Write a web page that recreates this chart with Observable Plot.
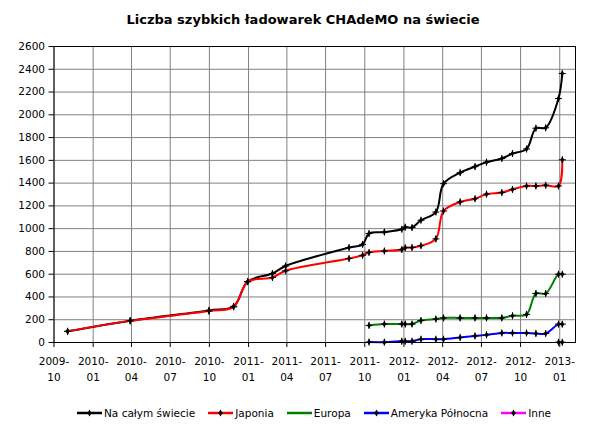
<!DOCTYPE html>
<html>
<head>
<meta charset="utf-8">
<script src="https://cdn.jsdelivr.net/npm/d3@7"></script>
<script src="https://cdn.jsdelivr.net/npm/@observablehq/plot@0.6"></script>
<style>
  html, body { margin: 0; padding: 0; background: #fff; }
  #wrap { position: relative; width: 600px; height: 424px; font-family: "DejaVu Sans", Verdana, sans-serif; }
  #title { position: absolute; left: 0; top: 12px; width: 606px; text-align: center; font-weight: bold; font-size: 13px; color: #000; }
  #chart { position: absolute; left: 0; top: 0; }
  #legend { position: absolute; left: 0; top: 406px; width: 628px; display: flex; justify-content: center; gap: 13px; font-size: 10.5px; color: #000; }
  .item { display: flex; align-items: center; gap: 2px; line-height: 14px; }
</style>
</head>
<body>
<div id="wrap">
  <div id="chart"></div>
  <div id="title">Liczba szybkich ładowarek CHAdeMO na świecie</div>
  <div id="legend"></div>
</div>
<script>
// ---- data ----
const dates = ["2009-11-02","2010-03-29","2010-09-30","2010-11-27","2010-12-30","2011-02-26","2011-03-29","2011-08-25","2011-09-26","2011-10-11","2011-11-16","2011-12-27","2012-01-04","2012-01-20","2012-02-10","2012-03-16","2012-04-03","2012-05-12","2012-06-16","2012-07-13","2012-08-18","2012-09-12","2012-10-15","2012-11-06","2012-11-29","2012-12-29","2013-01-07"];
const world  = [98,192,282,318,536,606,672,834,862,957,970,995,1013,1010,1074,1146,1395,1492,1545,1584,1616,1660,1700,1882,1886,2143,2363];
const japan  = [98,190,276,313,533,571,630,738,766,791,804,817,832,834,850,910,1155,1235,1263,1303,1317,1345,1375,1375,1381,1375,1605];
const europe = [null,null,null,null,null,null,null,null,null,150,162,162,162,162,193,206,216,216,216,216,216,235,247,430,430,600,600];
const northAmerica = [null,null,null,null,null,null,null,null,null,4,3,11,11,11,29,29,29,44,58,67,84,84,84,79,79,161,161];
const other  = [null,null,null,null,null,null,null,null,null,null,null,null,null,null,null,null,null,null,null,null,null,null,null,null,null,2,2];

const seriesNames  = ["Na całym świecie","Japonia","Europa","Ameryka Północna","Inne"];
const seriesColors = ["#000000","#ff0000","#008000","#0000ff","#ff00ff"];
const seriesValues = [world, japan, europe, northAmerica, other];
const legendMarker = [true, true, false, true, true];

const xTickLabels = ["2009-10","2010-01","2010-04","2010-07","2010-10","2011-01","2011-04","2011-07","2011-10","2012-01","2012-04","2012-07","2012-10","2013-01"];
const yTicks = [0,200,400,600,800,1000,1200,1400,1600,1800,2000,2200,2400,2600];
const xDomain = ["2009-10-01","2013-02-07"];
const yDomain = [0, 2600];

// ---- build ----
const parse = d3.utcParse("%Y-%m-%d");
const xTicks = xTickLabels.map(s => parse(s + "-01"));
const rows = [];
seriesValues.forEach((vals, si) => {
  vals.forEach((v, i) => {
    if (v != null) rows.push({series: seriesNames[si], date: parse(dates[i]), value: v});
  });
});

const marks = [
  Plot.gridX(xTicks, {stroke: "#808080", strokeOpacity: 1}),
  Plot.gridY(yTicks, {stroke: "#808080", strokeOpacity: 1}),
];
seriesNames.forEach((name, si) => {
  const d = rows.filter(r => r.series === name);
  marks.push(Plot.line(d, {x: "date", y: "value", stroke: seriesColors[si], strokeWidth: 2, curve: "catmull-rom"}));
  marks.push(Plot.dot(d, {x: "date", y: "value", symbol: "diamond", r: 2, fill: "#000", stroke: "none"}));
  marks.push(Plot.dot(d, {x: "date", y: "value", symbol: "plus", r: 2.4, stroke: "#000", strokeWidth: 1}));
});
marks.push(
  Plot.frame({stroke: "#000"}),
  Plot.axisY({ticks: yTicks, tickSize: 5, tickPadding: 4, label: null, tickFormat: d => String(d), fontSize: 10.5}),
  Plot.axisX({ticks: xTicks, tickSize: 5, tickPadding: 10, label: null, tickFormat: d => d3.utcFormat("%Y-")(d), fontSize: 10.5}),
  Plot.axisX({ticks: xTicks, tickSize: 0, tickPadding: 31, label: null, tickFormat: d => d3.utcFormat("%m")(d), fontSize: 10.5})
);

const chart = Plot.plot({
  width: 600,
  height: 424,
  marginLeft: 53.5,
  marginRight: 25,
  marginTop: 46,
  marginBottom: 82,
  style: {fontFamily: "DejaVu Sans, Verdana, sans-serif", fontSize: "10.5px", color: "#000", background: "#fff"},
  x: {type: "utc", domain: xDomain.map(parse)},
  y: {domain: yDomain},
  marks
});
document.getElementById("chart").appendChild(chart);

// ---- legend ----
const legend = d3.select("#legend");
seriesNames.forEach((name, si) => {
  const item = legend.append("div").attr("class", "item");
  const svg = item.append("svg").attr("width", 25).attr("height", 8);
  svg.append("line").attr("x1", 0).attr("x2", 25).attr("y1", 4).attr("y2", 4)
    .attr("stroke", seriesColors[si]).attr("stroke-width", 2.5);
  if (legendMarker[si]) {
    svg.append("path").attr("d", d3.symbol(d3.symbolDiamond, 14)()).attr("transform", "translate(12.5,4)").attr("fill", "#000");
    svg.append("path").attr("d", "M10,4H15M12.5,1.5V6.5").attr("stroke", "#000").attr("stroke-width", 1);
  }
  item.append("span").text(name);
});
</script>
</body>
</html>
